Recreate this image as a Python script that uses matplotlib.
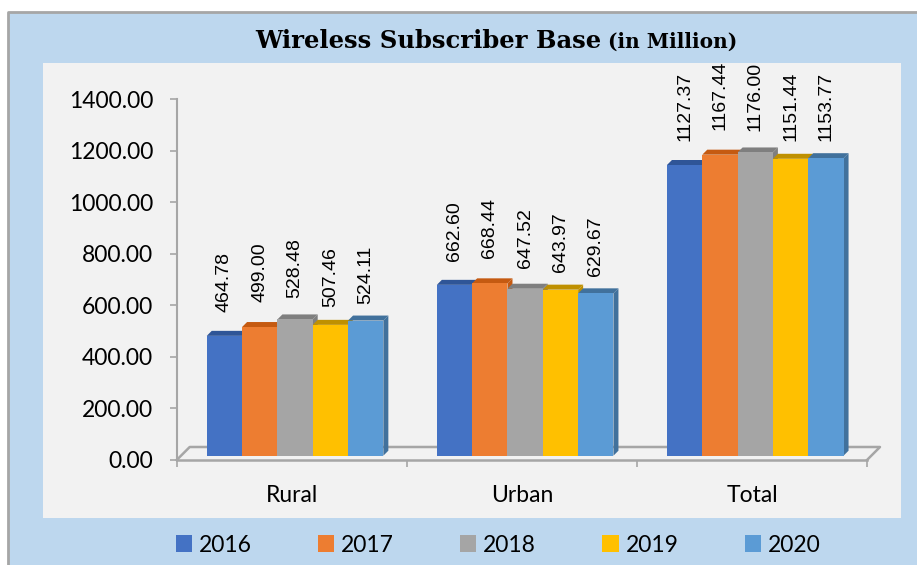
import numpy as np
import matplotlib
matplotlib.use("Agg")
import matplotlib.pyplot as plt
from matplotlib.patches import Rectangle, Polygon, Patch
from matplotlib.lines import Line2D
from matplotlib.transforms import IdentityTransform

# data (million subscribers)
categories = ["Rural", "Urban", "Total"]
years = ["2016", "2017", "2018", "2019", "2020"]
v2016 = [464.78, 662.60, 1127.37]
v2017 = [499.00, 668.44, 1167.44]
v2018 = [528.48, 647.52, 1176.00]
v2019 = [507.46, 643.97, 1151.44]
v2020 = [524.11, 629.67, 1153.77]
series = [v2016, v2017, v2018, v2019, v2020]

front_cols = ["#4472C4", "#ED7D31", "#A5A5A5", "#FFC000", "#5B9BD5"]
top_cols = ["#2F5597", "#C55A11", "#7F7F7F", "#BF9000", "#41719C"]
label_gap = [24, 25, 21, 18, 17]  # px above bar top (3D label placement)

W, H = 917, 565
fig = plt.figure(figsize=(W / 100, H / 100), dpi=100)
fig.patch.set_facecolor("white")

# outer blue frame and inner grey plot panel
fig.patches.append(Rectangle((8 / W, 0), 1 - 8 / W, (H - 12) / H, transform=fig.transFigure,
                             facecolor="#BDD7EE", edgecolor="none", zorder=-3))
fig.add_artist(Line2D([8 / W, 8 / W, 1], [0, 1 - 12 / H, 1 - 12 / H], transform=fig.transFigure,
                      color="#A6A6A6", lw=2, zorder=-2))
fig.patches.append(Rectangle((43 / W, 1 - 518 / H), (901 - 43) / W, (518 - 63) / H,
                             transform=fig.transFigure, facecolor="#F2F2F2",
                             edgecolor="none", zorder=-2))

ax = fig.add_axes([176.7 / W, 1 - 460 / H, (867 - 176.7) / W, (460 - 99) / H])
ax.set_facecolor("none")
ax.set_xlim(-0.5, 2.5)
ax.set_ylim(0, 1400)

for s in ["top", "right"]:
    ax.spines[s].set_visible(False)
ax.spines["left"].set_color("#A6A6A6")
ax.spines["left"].set_linewidth(1.5)
ax.spines["bottom"].set_color("#A6A6A6")
ax.spines["bottom"].set_linewidth(1.8)

ax.set_yticks(np.arange(0, 1401, 200))
ax.set_yticklabels([f"{v:.2f}" for v in np.arange(0, 1401, 200)])
ax.tick_params(axis="y", colors="#A6A6A6", labelcolor="black", length=5, width=1.2,
               labelsize=16.5, pad=12)
for t in ax.get_yticklabels():
    t.set_family("Lato")

ax.set_xticks([-0.5, 0.5, 1.5, 2.5])
ax.set_xticklabels([])
ax.set_xticks([0, 1, 2], minor=True)
ax.set_xticklabels(categories, minor=True, family="Lato", fontsize=16.5)
ax.tick_params(axis="x", which="major", colors="#A6A6A6", length=5, width=1.2)
ax.tick_params(axis="x", which="minor", length=0, pad=18)

# 3D floor outline
dep = 13
p0 = ax.transAxes.transform((0, 0))
p1 = ax.transAxes.transform((1, 0))
fig.add_artist(Line2D([p0[0], p0[0] + dep, p1[0] + dep, p1[0]],
                      [p0[1], p0[1] + dep, p1[1] + dep, p1[1]],
                      transform=IdentityTransform(), color="#A6A6A6", lw=1.8, zorder=1))

# 3D bars
w = 0.1535
sx, sy = 3.3, 4.3   # bar front placed mid-depth of floor
bd = 5              # bar depth in px
z = 2
for i in range(len(categories)):
    for j, vals in enumerate(series):
        xc = i + (j - 2) * w
        (x0, y0) = ax.transData.transform((xc - w / 2, 0))
        (x1, y1) = ax.transData.transform((xc + w / 2, vals[i]))
        x0 += sx; x1 += sx; y0 += sy; y1 += sy
        front = Polygon([(x0, y0), (x1, y0), (x1, y1), (x0, y1)], closed=True,
                        facecolor=front_cols[j], edgecolor="none", transform=IdentityTransform(),
                        zorder=z)
        top = Polygon([(x0, y1), (x1, y1), (x1 + bd, y1 + bd), (x0 + bd, y1 + bd)], closed=True,
                      facecolor=top_cols[j], edgecolor="none", transform=IdentityTransform(),
                      zorder=z)
        side = Polygon([(x1, y0), (x1 + bd, y0 + bd), (x1 + bd, y1 + bd), (x1, y1)], closed=True,
                       facecolor=top_cols[j], edgecolor="none", transform=IdentityTransform(),
                       zorder=z - 0.5)
        for p in (side, top, front):
            fig.add_artist(p)
        z += 1
        fig.text((x0 + x1) / 2 / W, (y1 + label_gap[j]) / H, f"{vals[i]:.2f}",
                 rotation=90, ha="center", va="bottom", fontsize=14,
                 family="Liberation Sans", zorder=50)

# title
t1 = fig.text(255 / W, 1 - 48 / H, "Wireless Subscriber Base", fontsize=17.5,
              fontweight="bold", family="DejaVu Serif", va="baseline")
r = fig.canvas.get_renderer()
bb = t1.get_window_extent(r)
fig.text((bb.x1 + 7) / W, 1 - 48 / H, "(in Million)", fontsize=14.5,
         fontweight="bold", family="DejaVu Serif", va="baseline")

handles = [Patch(facecolor=c, label=y) for c, y in zip(front_cols, years)]
fig.legend(handles=handles, loc="center", bbox_to_anchor=(498 / W, 1 - 545 / H), ncol=5,
           frameon=False, prop={"family": "Lato", "size": 16.5}, handlelength=0.7,
           handleheight=0.7, handletextpad=0.3, columnspacing=2.9)

fig.savefig("out.png", dpi=100)
